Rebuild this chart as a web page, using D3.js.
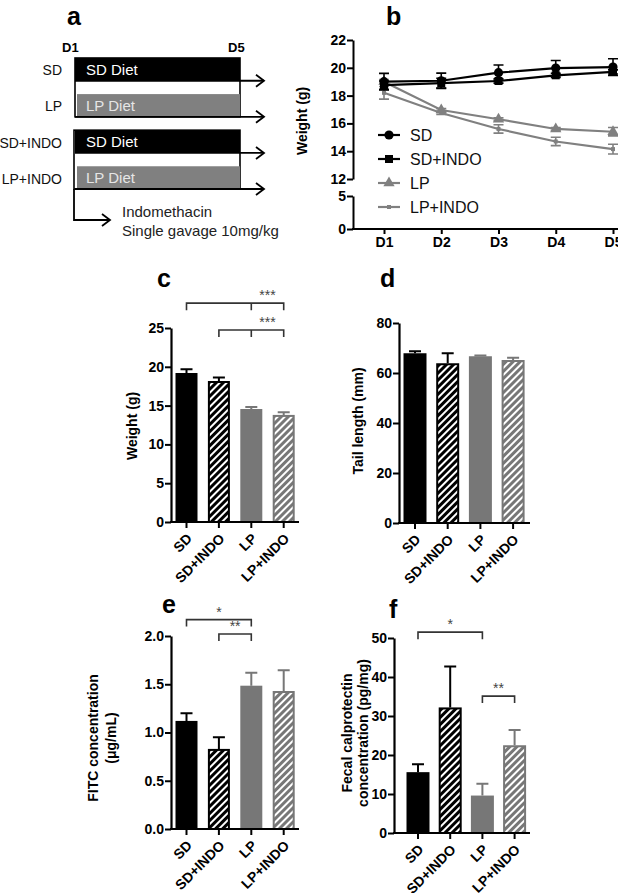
<!DOCTYPE html>
<html><head><meta charset="utf-8">
<script src="https://cdn.jsdelivr.net/npm/d3@7"></script>
<style>
body{margin:0;background:#fff}
svg{display:block}
text{font-family:"Liberation Sans",Arial,sans-serif}
</style>
</head><body>
<svg id="fig" width="618" height="893"></svg>
<script>
// ---------------- DATA ----------------
// panel a (design)
const groups = ["SD", "LP", "SD+INDO", "LP+INDO"];
const diets = ["SD Diet", "LP Diet", "SD Diet", "LP Diet"];
const dayMarks = ["D1", "D5"];
const note1 = "Indomethacin";
const note2 = "Single gavage 10mg/kg";

// panel b (weight over days)
const days = ["D1", "D2", "D3", "D4", "D5"];
const seriesNames = ["SD", "SD+INDO", "LP", "LP+INDO"];
const wSD      = [19.0, 19.07, 19.65, 19.98, 20.05];
const wSDerr   = [0.6, 0.55, 0.55, 0.55, 0.6];
const wSDI     = [18.75, 18.9, 19.05, 19.46, 19.7];
const wSDIerr  = [0.3, 0.35, 0.15, 0.15, 0.15];
const wLP      = [19.0, 16.96, 16.3, 15.6, 15.4];
const wLPerr   = [0.15, 0.1, 0.1, 0.1, 0.3];
const wLPI     = [18.2, 16.75, 15.6, 14.7, 14.15];
const wLPIerr  = [0.45, 0.1, 0.3, 0.3, 0.35];
const bTopTicks = [12, 14, 16, 18, 20, 22];
const bBotTicks = [0, 5];

// panels c-f (bars)
const cats = ["SD", "SD+INDO", "LP", "LP+INDO"];
const bodyWeight    = [19.2, 18.17, 14.56, 13.8];
const bodyWeightErr = [0.5, 0.45, 0.25, 0.35];
const tailLen       = [67.9, 63.9, 66.7, 65.2];
const tailLenErr    = [0.8, 4.0, 0.3, 0.9];
const fitc          = [1.12, 0.83, 1.485, 1.43];
const fitcErr       = [0.08, 0.12, 0.135, 0.215];
const calpro        = [15.6, 32.2, 9.6, 22.5];
const calproErr     = [2.0, 10.5, 3.0, 3.9];
const cTicks = [0, 5, 10, 15, 20, 25];
const dTicks = [0, 20, 40, 60, 80];
const eTicks = [0, 0.5, 1.0, 1.5, 2.0];
const fTicks = [0, 10, 20, 30, 40, 50];
// significance brackets: [from, to, middle tick (or null), label]
const cSig = [["SD", "LP+INDO", "LP", "***"], ["SD+INDO", "LP+INDO", "LP", "***"]];
const eSig = [["SD", "LP", null, "*"], ["SD+INDO", "LP", null, "**"]];
const fSig = [["SD", "LP", null, "*"], ["LP", "LP+INDO", null, "**"]];

// ---------------- STYLE ----------------
const BLACK = "#000", GRAY = "#777777", GRAYL = "#808080";
const svg = d3.select("#fig");
const defs = svg.append("defs");
function hatch(id, bg) {
  const p = defs.append("pattern").attr("id", id).attr("patternUnits", "userSpaceOnUse")
    .attr("width", 5).attr("height", 5).attr("patternTransform", "rotate(45)");
  p.append("rect").attr("width", 5).attr("height", 5).attr("fill", bg);
  p.append("rect").attr("x", 0).attr("width", 2).attr("height", 5).attr("fill", "#fff");
}
hatch("hK", BLACK);
hatch("hG", GRAY);
const fills = {"SD": BLACK, "SD+INDO": "url(#hK)", "LP": GRAY, "LP+INDO": "url(#hG)"};
const strokes = {"SD": BLACK, "SD+INDO": BLACK, "LP": GRAY, "LP+INDO": GRAY};

function panelLetter(t, x, y) {
  svg.append("text").attr("x", x).attr("y", y).text(t)
    .attr("font-size", 25).attr("font-weight", "bold");
}

// ---------------- PANEL a ----------------
(function () {
  const g = svg.append("g");
  const F = "Lato, 'Open Sans', sans-serif";
  const x0 = 75, x1 = 240, tip = 264;
  const yb = d3.scaleBand().domain(groups).range([58, 189]).paddingInner(0.37).paddingOuter(0);
  panelLetter("a", 67, 25);
  g.selectAll("text.day").data(dayMarks).join("text")
    .attr("x", (d, i) => i === 0 ? 62 : 228).attr("y", 52).text(d => d)
    .attr("font-family", F).attr("font-weight", "bold").attr("font-size", 13);
  // outline boxes
  g.append("rect").attr("x", x0).attr("y", yb("SD")).attr("width", x1 - x0)
    .attr("height", yb("LP") + yb.bandwidth() - yb("SD"))
    .attr("fill", "#fff").attr("stroke", "#000").attr("stroke-width", 1.6);
  g.append("rect").attr("x", x0 - 1).attr("y", yb("SD+INDO")).attr("width", x1 - x0 + 1)
    .attr("height", yb("LP+INDO") + yb.bandwidth() - yb("SD+INDO"))
    .attr("fill", "#fff").attr("stroke", "#000").attr("stroke-width", 1.6);
  groups.forEach((gr, i) => {
    const y = yb(gr), h = yb.bandwidth(), lp = diets[i].startsWith("LP");
    g.append("rect").attr("x", x0 + (lp ? 2 : 0)).attr("y", y).attr("width", x1 - x0 - (lp ? 2 : 0)).attr("height", h)
      .attr("fill", lp ? "#808080" : "#000");
    g.append("text").attr("x", 86).attr("y", y + h / 2 + 5.5).text(diets[i])
      .attr("font-family", F).attr("font-size", 15).attr("fill", lp ? "#e6e6e6" : "#fff");
    g.append("text").attr("x", 62).attr("y", y + h / 2 + 6).text(gr).attr("text-anchor", "end")
      .attr("font-family", F).attr("font-size", 14).attr("fill", "#111");
    const ya = y + h;
    g.append("line").attr("x1", x0).attr("x2", tip).attr("y1", ya).attr("y2", ya)
      .attr("stroke", "#000").attr("stroke-width", 1.8);
    g.append("path").attr("d", `M${tip - 8},${ya - 6}L${tip},${ya}L${tip - 8},${ya + 6}`)
      .attr("fill", "none").attr("stroke", "#000").attr("stroke-width", 1.8);
  });
  const yEnd = yb("LP+INDO") + yb.bandwidth();
  g.append("path").attr("d", `M${x0 - 1},${yEnd}V220H110`).attr("fill", "none").attr("stroke", "#000").attr("stroke-width", 1.8);
  g.append("path").attr("d", `M102,214L110,220L102,226`).attr("fill", "none").attr("stroke", "#000").attr("stroke-width", 1.8);
  g.append("text").attr("x", 122).attr("y", 217).text(note1).attr("font-family", F).attr("font-size", 15).attr("fill", "#222");
  g.append("text").attr("x", 122).attr("y", 236).text(note2).attr("font-family", F).attr("font-size", 15).attr("fill", "#222");
})();

// ---------------- PANEL b ----------------
(function () {
  const g = svg.append("g");
  panelLetter("b", 386, 25);
  const ax = 353;
  const yTop = d3.scaleLinear().domain([12, 22]).range([179, 40]);
  const yBot = d3.scaleLinear().domain([0, 5]).range([229, 196]);
  const x = d3.scalePoint().domain(days).range([384, 613]);
  const styleAxis = sel => {
    sel.select(".domain").attr("stroke-width", 2);
    sel.selectAll(".tick line").attr("stroke-width", 2);
    sel.selectAll(".tick text").attr("font-size", 14).attr("font-weight", "bold").attr("fill", "#000");
  };
  g.append("g").attr("transform", `translate(${ax},0)`)
    .call(d3.axisLeft(yTop).tickValues(bTopTicks).tickFormat(d3.format("d")).tickSize(6).tickSizeOuter(0).tickPadding(1)).call(styleAxis);
  g.append("g").attr("transform", `translate(${ax},0)`)
    .call(d3.axisLeft(yBot).tickValues(bBotTicks).tickFormat(d3.format("d")).tickSize(6).tickSizeOuter(0).tickPadding(1)).call(styleAxis);
  const xa = g.append("g").attr("transform", `translate(0,229)`)
    .call(d3.axisBottom(x).tickSize(5).tickSizeOuter(0).tickPadding(3)).call(styleAxis);
  xa.select(".domain").remove();
  g.append("line").attr("x1", ax - 1).attr("x2", 618).attr("y1", 229).attr("y2", 229).attr("stroke", "#000").attr("stroke-width", 2);
  g.append("text").attr("transform", "translate(307,121) rotate(-90)").attr("text-anchor", "middle")
    .text("Weight (g)").attr("font-size", 14).attr("font-weight", "bold");

  const series = [
    {name: seriesNames[0], v: wSD, e: wSDerr, c: BLACK, m: "circle"},
    {name: seriesNames[1], v: wSDI, e: wSDIerr, c: BLACK, m: "square"},
    {name: seriesNames[2], v: wLP, e: wLPerr, c: GRAYL, m: "triangle"},
    {name: seriesNames[3], v: wLPI, e: wLPIerr, c: GRAYL, m: "small"}
  ];
  const line = d3.line().x((d, i) => x(days[i])).y(d => yTop(d));
  function marker(sel, s, cx, cy) {
    if (s.m === "circle") sel.append("circle").attr("cx", cx).attr("cy", cy).attr("r", 4.6).attr("fill", s.c);
    else if (s.m === "square") sel.append("rect").attr("x", cx - 4).attr("y", cy - 4).attr("width", 8).attr("height", 8).attr("fill", s.c);
    else if (s.m === "triangle") sel.append("path").attr("d", d3.symbol(d3.symbolTriangle, 55)()).attr("transform", `translate(${cx},${cy})`).attr("fill", s.c);
    else sel.append("rect").attr("x", cx - 2).attr("y", cy - 2).attr("width", 4).attr("height", 4).attr("fill", s.c);
  }
  series.slice().reverse().forEach(s => {
    const sg = g.append("g");
    s.v.forEach((v, i) => {
      const cx = x(days[i]);
      sg.append("path").attr("d", `M${cx},${yTop(v - s.e[i])}V${yTop(v + s.e[i])}M${cx - 5},${yTop(v - s.e[i])}H${cx + 5}M${cx - 5},${yTop(v + s.e[i])}H${cx + 5}`)
        .attr("stroke", s.c).attr("stroke-width", 1.6).attr("fill", "none");
    });
    sg.append("path").attr("d", line(s.v)).attr("fill", "none").attr("stroke", s.c).attr("stroke-width", 2.2);
    s.v.forEach((v, i) => marker(sg, s, x(days[i]), yTop(v)));
  });
  // legend
  const ly = d3.scalePoint().domain(seriesNames).range([135, 207]);
  series.forEach(s => {
    const y = ly(s.name);
    g.append("line").attr("x1", 378).attr("x2", 400).attr("y1", y).attr("y2", y).attr("stroke", s.c).attr("stroke-width", 2.2);
    marker(g, s, 389, y);
    g.append("text").attr("x", 410).attr("y", y + 5.5).text(s.name).attr("font-size", 16).attr("fill", "#111");
  });
})();

// ---------------- BAR PANELS ----------------
function barPanel(o) {
  const g = svg.append("g");
  const y = d3.scaleLinear().domain([0, o.max]).range([o.y0, o.y1]);
  const x = d3.scaleBand().domain(cats).range([o.ax + o.first - o.step / 2, o.ax + o.first - o.step / 2 + cats.length * o.step]).padding(0);
  const bw = o.bw, off = (o.step - bw) / 2;
  const ya = g.append("g").attr("transform", `translate(${o.ax},0)`)
    .call(d3.axisLeft(y).tickValues(o.ticks).tickFormat(o.fmt).tickSize(6).tickSizeOuter(0).tickPadding(1));
  ya.select(".domain").attr("stroke-width", 2.2);
  ya.selectAll(".tick line").attr("stroke-width", 2);
  ya.selectAll(".tick text").attr("font-size", 14).attr("font-weight", "bold").attr("fill", "#000");
  // bars
  cats.forEach((c, i) => {
    const v = o.vals[i], e = o.errs[i], bx = x(c) + off;
    const hatched = c.includes("INDO");
    g.append("rect").attr("x", bx + (hatched ? 1 : 0)).attr("y", y(v) + (hatched ? 1 : 0))
      .attr("width", bw - (hatched ? 2 : 0)).attr("height", y(0) - y(v) - (hatched ? 1 : 0))
      .attr("fill", fills[c]).attr("stroke", hatched ? strokes[c] : "none").attr("stroke-width", 2);
    const cx = x(c) + o.step / 2;
    g.append("path").attr("d", `M${cx},${y(v)}V${y(v + e)}M${cx - 6},${y(v + e)}H${cx + 6}`)
      .attr("stroke", strokes[c]).attr("stroke-width", 2).attr("fill", "none");
  });
  const xa = g.append("g").attr("transform", `translate(0,${o.y0})`)
    .call(d3.axisBottom(x).tickSize(6).tickSizeOuter(0));
  xa.select(".domain").remove();
  xa.selectAll(".tick line").attr("stroke-width", 2);
  xa.selectAll(".tick text").attr("y", 0).attr("dy", "0.35em").attr("x", 0)
    .attr("transform", "translate(3,14) rotate(-45)").attr("text-anchor", "end")
    .attr("font-size", 14).attr("font-weight", "bold").attr("fill", "#000");
  g.append("line").attr("x1", o.ax - 1).attr("x2", o.xEnd).attr("y1", o.y0).attr("y2", o.y0).attr("stroke", "#000").attr("stroke-width", 2.2);
  // y label
  o.labels.forEach((t, i) => {
    g.append("text").attr("transform", `translate(${o.labelX[i]},${o.labelY}) rotate(-90)`).attr("text-anchor", "middle")
      .text(t).attr("font-size", 14).attr("font-weight", "bold");
  });
  // significance
  (o.sig || []).forEach((s, k) => {
    const by = y(o.sigLevels[k]);
    const cx = c => x(c) + o.step / 2;
    let d = `M${cx(s[0])},${by + 7}V${by}H${cx(s[1])}V${by + 7}`;
    if (s[2]) d += `M${cx(s[2])},${by}V${by + 7}`;
    g.append("path").attr("d", d).attr("fill", "none").attr("stroke", "#333").attr("stroke-width", 1.6);
    const tx = s[2] ? (cx(s[2]) + cx(s[1])) / 2 : (cx(s[0]) + cx(s[1])) / 2;
    g.append("text").attr("x", tx).attr("y", by - 3).attr("text-anchor", "middle").text(s[3])
      .attr("font-size", 14).attr("fill", "#444");
  });
  panelLetter(o.letter, o.lx, o.ly);
}

barPanel({letter: "c", lx: 157, ly: 287, ax: 171, y0: 522, y1: 328, max: 25, ticks: cTicks, fmt: d3.format("d"),
  vals: bodyWeight, errs: bodyWeightErr, first: 15.5, step: 32.4, bw: 22, xEnd: 299,
  labels: ["Weight (g)"], labelX: [137], labelY: 426, sig: cSig, sigLevels: [28.2, 24.75]});
barPanel({letter: "d", lx: 380, ly: 287, ax: 399, y0: 523, y1: 323, max: 80, ticks: dTicks, fmt: d3.format("d"),
  vals: tailLen, errs: tailLenErr, first: 16, step: 32.7, bw: 23, xEnd: 530,
  labels: ["Tail length (mm)"], labelX: [363], labelY: 421});
barPanel({letter: "e", lx: 162, ly: 613, ax: 171, y0: 829, y1: 636, max: 2.0, ticks: eTicks, fmt: d3.format(".1f"),
  vals: fitc, errs: fitcErr, first: 15.5, step: 32.4, bw: 22, xEnd: 299,
  labels: ["FITC concentration", "(\u03bcg/mL)"], labelX: [98, 116], labelY: 738, sig: eSig, sigLevels: [2.17, 2.02]});
barPanel({letter: "f", lx: 389, ly: 618, ax: 394, y0: 833, y1: 638, max: 50, ticks: fTicks, fmt: d3.format("d"),
  vals: calpro, errs: calproErr, first: 24, step: 32.2, bw: 23, xEnd: 530,
  labels: ["Fecal calprotectin", "concentration (pg/mg)"], labelX: [352, 368], labelY: 733, sig: fSig, sigLevels: [51.5, 35.1]});
</script>
</body></html>
